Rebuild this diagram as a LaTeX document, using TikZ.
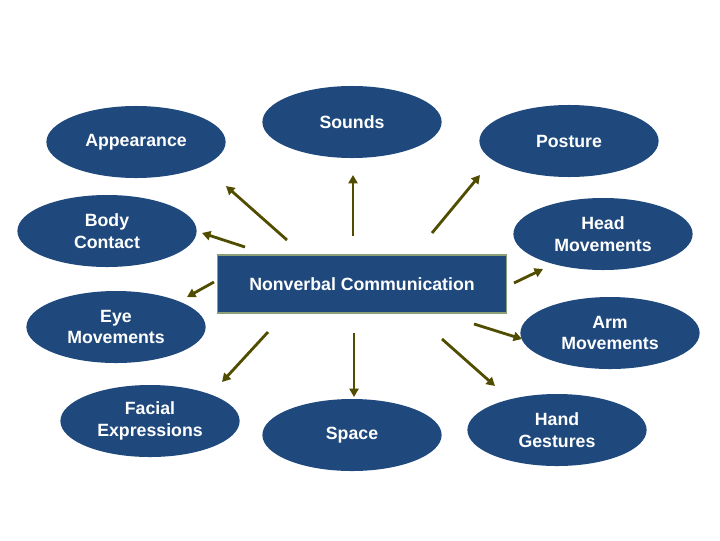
\documentclass[tikz,border=0pt]{standalone}
\usepackage{fontspec}
\setmainfont{Liberation Sans}
\usetikzlibrary{arrows.meta,shapes.geometric}
\definecolor{ovalblue}{RGB}{31,73,125}
\definecolor{edgegreen}{RGB}{140,160,120}
\definecolor{olivearrow}{RGB}{80,76,0}
\tikzset{
  oval/.style={ellipse,fill=ovalblue,minimum width=4.48cm,minimum height=1.8cm,
    inner sep=0pt,align=center,text=white,font=\fontsize{12.6}{15.4}\selectfont\bfseries},
  hub/.style={rectangle,fill=ovalblue,draw=edgegreen,line width=0.8pt,
    minimum width=7.22cm,minimum height=1.45cm,text=white,
    font=\fontsize{12.6}{15.4}\selectfont\bfseries},
  arr/.style={draw=olivearrow,line width=2pt,-{Triangle[length=6pt,width=6.5pt]}}
}

\begin{document}
\begin{tikzpicture}[x=0.025cm,y=-0.025cm]
  \useasboundingbox (0,0) rectangle (720,540);
  % centre box
  \node[hub] (nc) at (362,284) {Nonverbal Communication};
  % ovals
  \node[oval] (app) at (136,142) {Appearance};
  \node[oval] (snd) at (352,122) {Sounds};
  \node[oval] (pos) at (569,141) {Posture};
  \node[oval] (body) at (107,231) {Body\\Contact};
  \node[oval] (head) at (603,234) {Head\\Movements};
  \node[oval] (eye) at (116,327) {Eye\\Movements};
  \node[oval] (arm) at (610,333) {Arm\\Movements};
  \node[oval] (fac) at (150,421) {Facial\\Expressions};
  \node[oval] (spc) at (352,435) {Space};
  \node[oval] (hand) at (557,430) {Hand\\Gestures};
  % arrow ends
  \coordinate (app0) at (287,240);  \coordinate (app1) at (226,186);
  \coordinate (snd0) at (353,236);  \coordinate (snd1) at (353,175);
  \coordinate (pos0) at (432,233);  \coordinate (pos1) at (480,175);
  \coordinate (body0) at (245,247); \coordinate (body1) at (202,233);
  \coordinate (head0) at (514,283); \coordinate (head1) at (543,269);
  \coordinate (eye0) at (214,282);  \coordinate (eye1) at (187,297);
  \coordinate (arm0) at (474,324);  \coordinate (arm1) at (522,339);
  \coordinate (fac0) at (268,332);  \coordinate (fac1) at (222,382);
  \coordinate (spc0) at (354,333);  \coordinate (spc1) at (354,397);
  \coordinate (hand0) at (442,339); \coordinate (hand1) at (495,386);
  \foreach \n in {app,snd,pos,body,head,eye,arm,fac,spc,hand}
    \draw[arr] (\n0) -- (\n1);
\end{tikzpicture}
\end{document}
